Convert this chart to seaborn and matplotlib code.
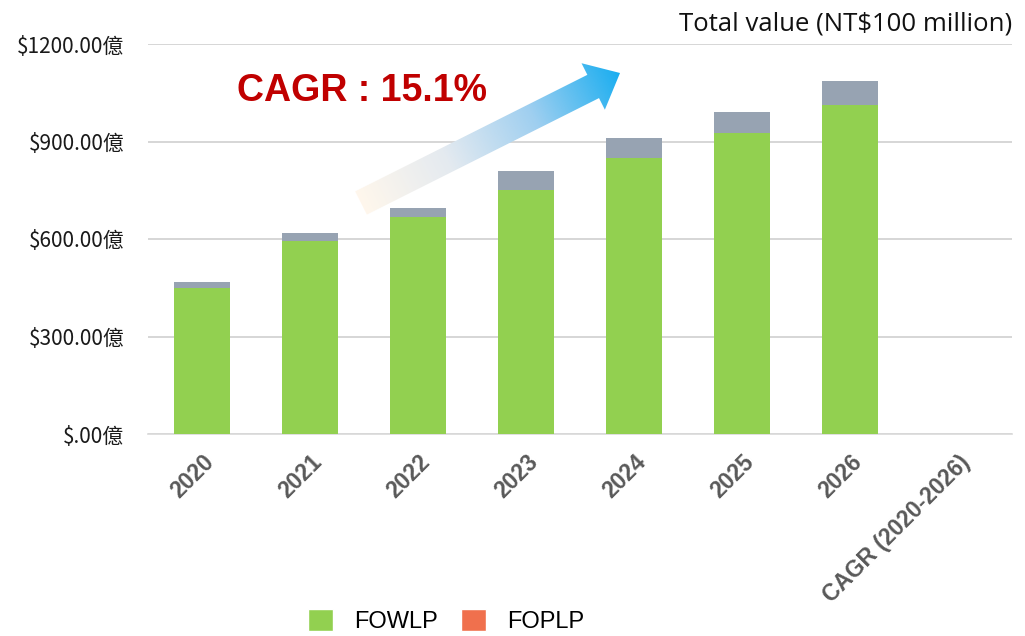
import numpy as np
import pandas as pd
import seaborn as sns
import matplotlib.pyplot as plt
from matplotlib.patches import Patch, Polygon
from matplotlib.colors import LinearSegmentedColormap

# data (NT$100 million)
categories = ['2020', '2021', '2022', '2023', '2024', '2025', '2026', 'CAGR (2020-2026)']
years = ['2020', '2021', '2022', '2023', '2024', '2025', '2026']
fowlp = [450, 595, 668, 752, 850, 925, 1011]
total = [467, 619, 695, 809, 912, 991, 1086]
y_ticks = [0, 300, 600, 900, 1200]
y_tick_labels = ['$.00億', '$300.00億', '$600.00億', '$900.00億', '$1200.00億']
cagr_text = 'CAGR : 15.1%'

df = pd.DataFrame({'year': years, 'FOWLP': fowlp, 'total': total})

sns.set_theme(style='white')
plt.rcParams['font.family'] = ['Liberation Sans', 'DejaVu Sans']
plt.rcParams['text.color'] = 'black'

fig = plt.figure(figsize=(10.25, 6.36), dpi=100)
ax = fig.add_axes([148 / 1025, 1 - 434 / 636, 864 / 1025, 390 / 636])

# grey top part first (full height), then green on top of it
sns.barplot(data=df, x='year', y='total', order=categories, color='#97A3B2',
            saturation=1, width=0.52, errorbar=None, linewidth=0, ax=ax, zorder=3)
sns.barplot(data=df, x='year', y='FOWLP', order=categories, color='#92D050',
            saturation=1, width=0.52, errorbar=None, linewidth=0, ax=ax, zorder=3)

ax.set_ylim(0, 1200)
ax.set_xlim(-0.5, len(categories) - 0.5)
ax.set_yticks(y_ticks)
ax.set_yticklabels(y_tick_labels, family=['Noto Sans CJK TC'], fontsize=15, color='#1a1a1a')
ax.set_xticks(range(len(categories)))
ax.set_xticklabels(categories, rotation=45, ha='right', rotation_mode='anchor',
                   fontsize=16.5, fontweight='bold', color='#595959')
ax.tick_params(axis='y', length=0, pad=17)
ax.tick_params(axis='x', length=0, pad=12)
ax.set_xlabel('')
ax.set_ylabel('')
ax.grid(axis='y', color='#D0D0D0', linewidth=1.2, zorder=0)
ax.set_axisbelow(True)
for s in ['left', 'right', 'top']:
    ax.spines[s].set_visible(False)
ax.spines['bottom'].set_color('#D9D9D9')
ax.spines['bottom'].set_linewidth(1.2)

ax.text(1.0, 1.02, 'Total value (NT$100 million)', transform=ax.transAxes,
        ha='right', va='bottom', fontsize=18.5, family=['Open Sans'], color='#111111')

# overlay in figure pixels for the CAGR annotation
ov = fig.add_axes([0, 0, 1, 1], zorder=5)
ov.set_xlim(0, 1025)
ov.set_ylim(636, 0)
ov.axis('off')

ov.text(237, 101, cagr_text, color='#C00000', fontsize=27, fontweight='bold',
        ha='left', va='baseline')

# gradient arrow
tail = np.array([361.0, 203.0])
tip = np.array([620.0, 73.0])
u = (tip - tail) / np.linalg.norm(tip - tail)
n = np.array([-u[1], u[0]])
L = np.linalg.norm(tip - tail)
local = [(0, -13), (L - 30, -13), (L - 30, -26), (L, 0), (L - 30, 26), (L - 30, 13), (0, 13)]
pts = np.array([tail + s * u + w * n for s, w in local])
poly = Polygon(pts, closed=True, facecolor='none', edgecolor='none')
ov.add_patch(poly)

x0, x1 = pts[:, 0].min() - 2, pts[:, 0].max() + 2
y0, y1 = pts[:, 1].min() - 2, pts[:, 1].max() + 2
gx, gy = np.meshgrid(np.linspace(x0, x1, 300), np.linspace(y0, y1, 150))
t = ((gx - tail[0]) * u[0] + (gy - tail[1]) * u[1]) / L
t = np.clip(t, 0, 1)
cmap = LinearSegmentedColormap.from_list('arr', ['#FFF7EC', '#E4EAF0', '#9FCFF0', '#1BAEF0'])
im = ov.imshow(t, cmap=cmap, extent=(x0, x1, y1, y0), origin='upper',
               aspect='auto', interpolation='bilinear', vmin=0, vmax=1)
im.set_clip_path(poly)
ov.set_xlim(0, 1025)
ov.set_ylim(636, 0)

handles = [Patch(facecolor='#92D050', label='FOWLP'),
           Patch(facecolor='#F0704D', label='FOPLP')]
fig.legend(handles=handles, loc='center', bbox_to_anchor=(446 / 1025, 1 - 621 / 636),
           ncol=2, frameon=False, fontsize=17, handlelength=1.05, handleheight=1.05,
           handletextpad=0.9, columnspacing=1.0, labelcolor='black')

fig.savefig('out.png', dpi=100)
